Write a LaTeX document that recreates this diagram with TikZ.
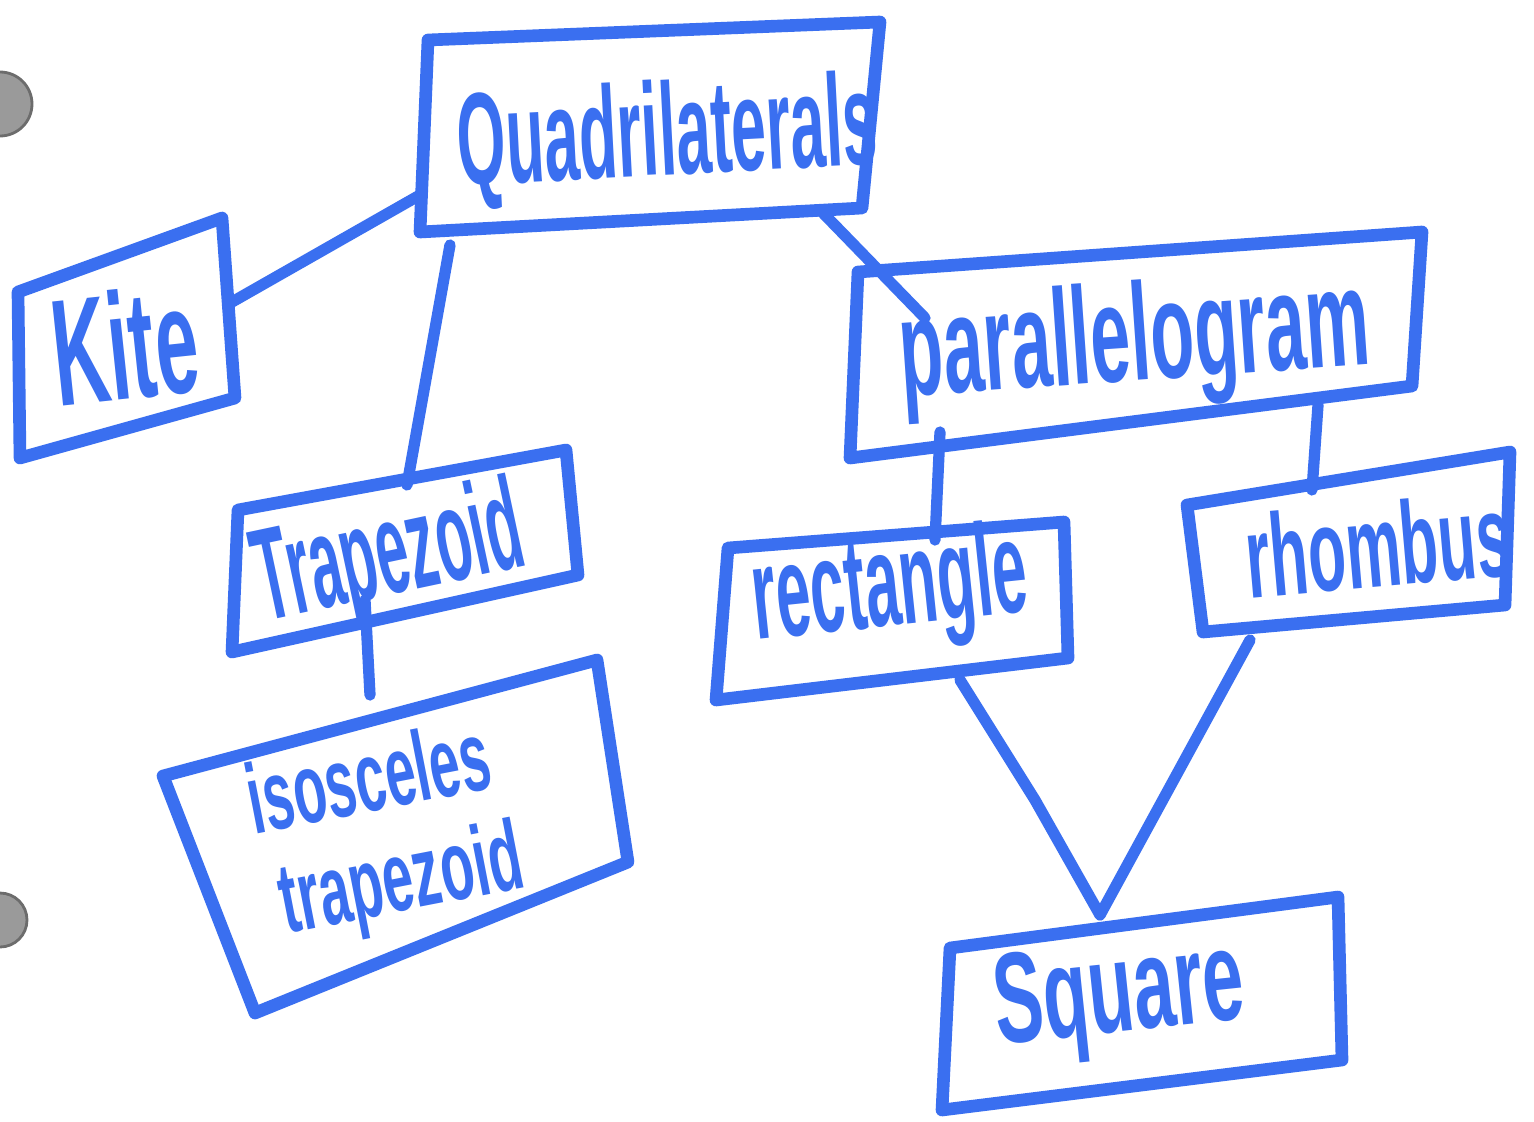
\documentclass[tikz,border=0pt]{standalone}
\usepackage{fontspec}
\setmainfont{Liberation Sans}
\definecolor{pen}{HTML}{3A6FF0}
\definecolor{hole}{HTML}{9A9A9A}
\tikzset{
  boxline/.style={draw=pen, line width=3.6pt, line join=round, line cap=round},
  link/.style={draw=pen, line width=3.2pt, line cap=round, line join=round},
  word/.style={text=pen, inner sep=0pt, font=\bfseries},
  punch/.style={fill=hole, draw=hole!70!black, line width=0.8pt}
}
\begin{document}
\begin{tikzpicture}[x=0.01cm,y=-0.01cm]
\useasboundingbox[fill=white] (0,0) rectangle (1534,1121);
% punch holes
\fill[punch] (0,104) circle (32);
\fill[punch] (0,920) circle (27);

% box corners
\coordinate (q1) at (428,40);  \coordinate (q2) at (880,22);  \coordinate (q3) at (862,208); \coordinate (q4) at (420,232);
\coordinate (k1) at (18,292);  \coordinate (k2) at (222,218); \coordinate (k3) at (235,398); \coordinate (k4) at (20,458);
\coordinate (t1) at (238,510); \coordinate (t2) at (566,450); \coordinate (t3) at (578,575); \coordinate (t4) at (232,652);
\coordinate (i1) at (163,776); \coordinate (i2) at (597,660); \coordinate (i3) at (628,862); \coordinate (i4) at (255,1013);
\coordinate (p1) at (858,272); \coordinate (p2) at (1422,232); \coordinate (p3) at (1412,386); \coordinate (p4) at (850,458);
\coordinate (r1) at (728,548); \coordinate (r2) at (1064,522); \coordinate (r3) at (1068,658); \coordinate (r4) at (716,700);
\coordinate (h1) at (1187,505); \coordinate (h2) at (1510,452); \coordinate (h3) at (1505,605); \coordinate (h4) at (1203,632);
\coordinate (s1) at (950,948); \coordinate (s2) at (1338,897); \coordinate (s3) at (1342,1060); \coordinate (s4) at (942,1110);

% boxes
\draw[boxline] (q1) -- (q2) -- (q3) -- (q4) -- cycle;
\draw[boxline] (k1) -- (k2) -- (k3) -- (k4) -- cycle;
\draw[boxline] (t1) -- (t2) -- (t3) -- (t4) -- cycle;
\draw[boxline] (i1) -- (i2) -- (i3) -- (i4) -- cycle;
\draw[boxline] (p1) -- (p2) -- (p3) -- (p4) -- cycle;
\draw[boxline] (r1) -- (r2) -- (r3) -- (r4) -- cycle;
\draw[boxline] (h1) -- (h2) -- (h3) -- (h4) -- cycle;
\draw[boxline] (s1) -- (s2) -- (s3) -- (s4) -- cycle;

% connector end points
\coordinate (qk) at (420,195);   \coordinate (kq) at (232,302);
\coordinate (qt) at (450,245);   \coordinate (tq) at (407,485);
\coordinate (qp) at (822,212);   \coordinate (pq) at (925,318);
\coordinate (ti) at (365,600);   \coordinate (it) at (370,695);
\coordinate (pr) at (940,432);   \coordinate (rp) at (935,540);
\coordinate (ph) at (1318,405);  \coordinate (hp) at (1312,490);
\coordinate (rs) at (960,680);   \coordinate (rsm) at (1035,800);
\coordinate (hs) at (1250,640);  \coordinate (sq) at (1100,915);

\draw[link] (qk) -- (kq);
\draw[link] (qt) -- (tq);
\draw[link] (qp) -- (pq);
\draw[link] (ti) -- (it);
\draw[link] (pr) -- (rp);
\draw[link] (ph) -- (hp);
\draw[link] (rs) -- (rsm) -- (sq);
\draw[link] (hs) -- (sq);

% labels
\node[word, rotate=3] (quad) at (668,140) {\resizebox{4.2cm}{0.95cm}{Quadrilaterals}};
\node[word, rotate=6] (kite) at (125,345) {\resizebox{1.45cm}{1.1cm}{Kite}};
\node[word, rotate=12] (trap) at (390,560) {\resizebox{2.7cm}{0.95cm}{Trapezoid}};
\node[word, rotate=11] (iso1) at (368,776) {\resizebox{2.45cm}{0.72cm}{isosceles}};
\node[word, rotate=11] (iso2) at (402,885) {\resizebox{2.45cm}{0.72cm}{trapezoid}};
\node[word, rotate=4] (para) at (1135,345) {\resizebox{4.7cm}{1.0cm}{parallelogram}};
\node[word, rotate=6] (rect) at (890,592) {\resizebox{2.75cm}{0.95cm}{rectangle}};
\node[word, rotate=5] (rhom) at (1378,545) {\resizebox{2.65cm}{0.85cm}{rhombus}};
\node[word, rotate=6] (squa) at (1120,1000) {\resizebox{2.5cm}{0.9cm}{Square}};
\end{tikzpicture}
\end{document}
